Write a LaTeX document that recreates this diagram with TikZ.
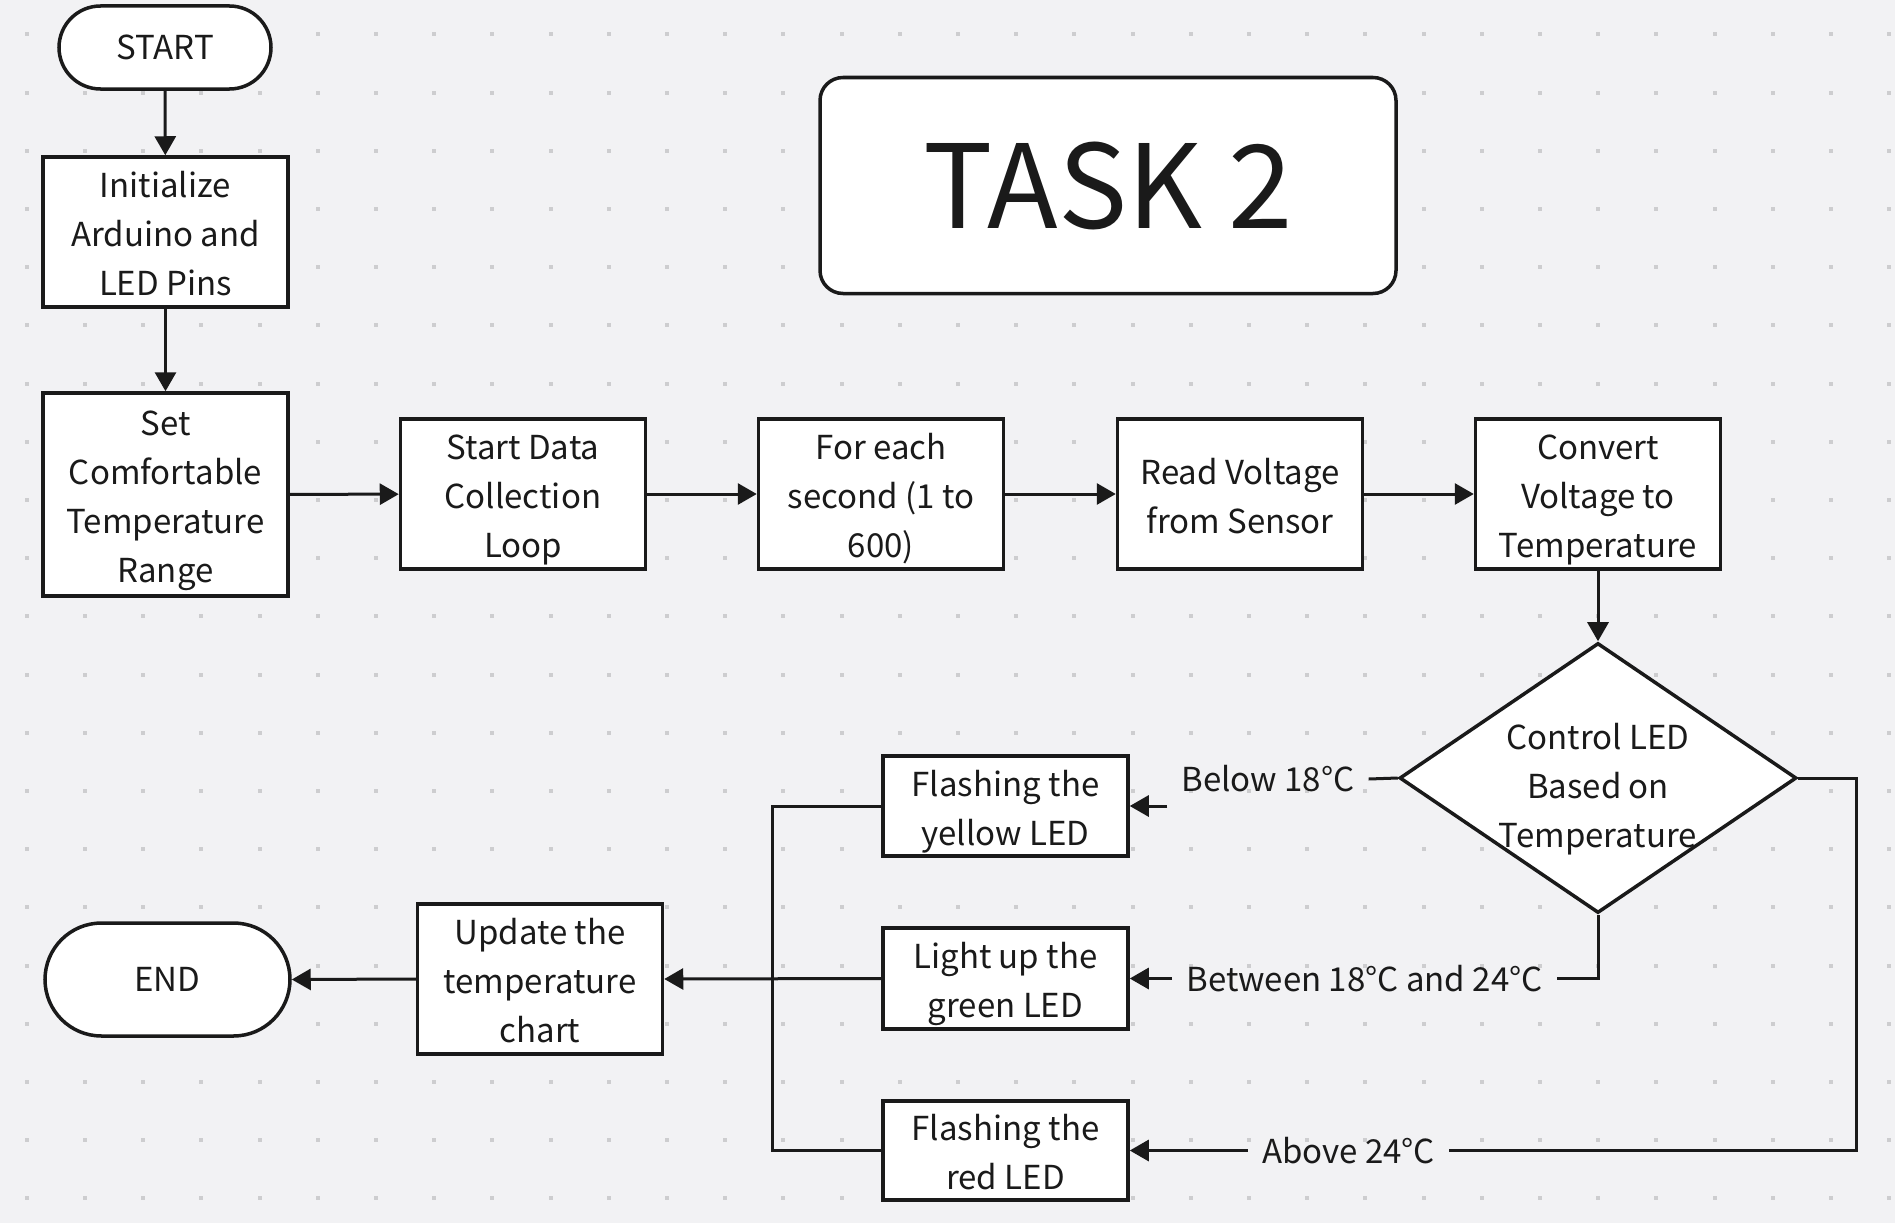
\documentclass[tikz,border=0pt]{standalone}
\usepackage{fontspec}
\setmainfont{Noto Sans CJK SC}
\usetikzlibrary{shapes.geometric,shapes.misc,arrows.meta}
\definecolor{bgc}{HTML}{F2F2F4}
\definecolor{dotc}{HTML}{CDCDCF}
\definecolor{ink}{HTML}{1A1A1A}
\newcommand{\boxfont}{\fontsize{33}{49}\selectfont}
\newcommand{\tx}[1]{\raisebox{-5pt}[\height][\depth]{\begin{tabular}{@{}c@{}}#1\end{tabular}}}
\begin{document}
\begin{tikzpicture}[x=1pt,y=-1pt,
  every node/.style={text=ink},
  stepbox/.style={draw=ink, line width=3.5pt, fill=white, minimum width=245pt, align=center, inner sep=0pt, font=\boxfont},
  termbox/.style={draw=ink, line width=3.5pt, fill=white, rounded rectangle, align=center, inner sep=0pt, font=\boxfont},
  lbl/.style={inner xsep=14pt, inner ysep=0pt, font=\boxfont},
  conn/.style={draw=ink, line width=3pt},
  arr/.style={conn, -{Triangle[length=19pt,width=21pt]}}
]
\useasboundingbox (0,0) rectangle (1895,1223);
\fill[bgc] (0,0) rectangle (1895,1223);
\foreach \i in {0,...,32}{
  \foreach \j in {0,...,20}{
    \fill[dotc] ({26.7+58.2*\i-2},{34.3+58.2*\j-2}) rectangle +(4,4);
  }
}
% title
\node[draw=ink, line width=3.5pt, fill=white, rounded corners=23pt, minimum width=576pt, minimum height=216pt, inner sep=0pt, font=\fontsize{116}{140}\selectfont] (title) at (1108,185.5) {TASK 2};
% nodes
\node[termbox, minimum width=212pt, minimum height=83pt] (start) at (165,47.5) {START};
\node[stepbox, minimum height=150pt] (init) at (165.5,232) {\tx{Initialize\\Arduino and\\LED Pins}};
\node[stepbox, minimum height=203pt] (set) at (165.5,494.5) {\tx{Set\\Comfortable\\Temperature\\Range}};
\node[stepbox, minimum height=150pt] (loop) at (523,494) {\tx{Start Data\\Collection\\Loop}};
\node[stepbox, minimum height=150pt] (each) at (881,494) {\tx{For each\\second (1 to\\600)}};
\node[stepbox, minimum height=150pt] (read) at (1240,494) {\tx{Read Voltage\\from Sensor}};
\node[stepbox, minimum height=150pt] (conv) at (1598,494) {\tx{Convert\\Voltage to\\Temperature}};
\node[diamond, draw=ink, line width=3.5pt, fill=white, minimum width=397pt, minimum height=270pt, inner sep=0pt] (dec) at (1598,778) {};
\node[align=center, inner sep=0pt, font=\boxfont] (dectext) at (1598,784) {\tx{Control LED\\Based on\\Temperature}};
\node[stepbox, minimum height=100pt] (yel) at (1005.5,806) {\tx{Flashing the\\yellow LED}};
\node[stepbox, minimum height=101pt] (grn) at (1005.5,978.5) {\tx{Light up the\\green LED}};
\node[stepbox, minimum height=99pt] (red) at (1005.5,1150.5) {\tx{Flashing the\\red LED}};
\node[stepbox, minimum height=150pt] (upd) at (540,979) {\tx{Update the\\temperature\\chart}};
\node[termbox, minimum width=245pt, minimum height=113pt] (end) at (167.5,979.5) {END};
% labels
\node[lbl] (lblA) at (1268,779) {Below 18°C};
\node[lbl] (lblB) at (1364.5,978.5) {Between 18°C and 24°C};
\node[lbl] (lblC) at (1348.5,1150.5) {Above 24°C};
\coordinate (bb) at (772,1150.5);
\coordinate (cR) at (1856,1150.5);
% connectors
\draw[arr] (start) -- (init);
\draw[arr] (init) -- (set);
\draw[arr] (set) -- (loop);
\draw[arr] (loop) -- (each);
\draw[arr] (each) -- (read);
\draw[arr] (read) -- (conv);
\draw[arr] (conv) -- (dec);
\draw[conn] (dec.west) -- (lblA.east);
\draw[arr] (lblA.west |- yel.east) -- (yel.east);
\draw[conn] (dec.south) |- (lblB.east);
\draw[arr] (lblB.west) -- (grn.east);
\draw[conn] (dec.east) -| (cR) -- (lblC.east);
\draw[arr] (lblC.west) -- (red.east);
\draw[conn] (yel.west) -| (bb) -- (red.west);
\draw[arr] (grn.west) -- (upd.east);
\draw[arr] (upd.west) -- (end.east);
\end{tikzpicture}
\end{document}
